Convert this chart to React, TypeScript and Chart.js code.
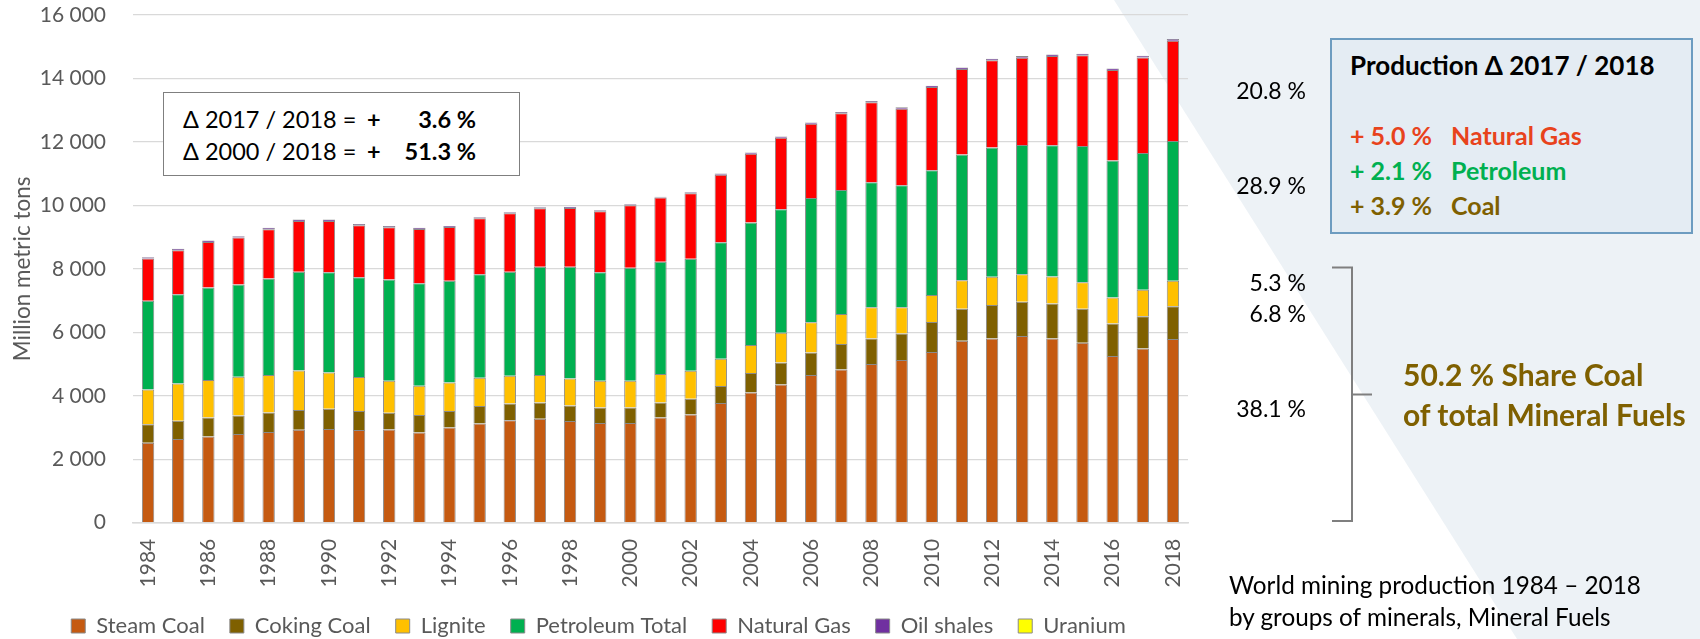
import React, { useEffect, useRef } from 'react';
import { Chart, registerables } from 'chart.js';

Chart.register(...registerables);

const years = ['1984','1985','1986','1987','1988','1989','1990','1991','1992','1993','1994','1995','1996','1997','1998','1999','2000','2001','2002','2003','2004','2005','2006','2007','2008','2009','2010','2011','2012','2013','2014','2015','2016','2017','2018'];

const steamCoal = [2520, 2636, 2720, 2793, 2856, 2930, 2950, 2919, 2940, 2846, 3004, 3130, 3225, 3276, 3203, 3140, 3140, 3318, 3413, 3770, 4106, 4359, 4652, 4830, 4998, 5124, 5376, 5732, 5807, 5880, 5807, 5669, 5250, 5493, 5790];
const cokingCoal = [579, 577, 598, 589, 620, 619, 641, 598, 525, 546, 513, 545, 534, 515, 493, 494, 494, 473, 493, 535, 608, 692, 714, 798, 809, 840, 950, 1014, 1050, 1081, 1103, 1073, 1030, 1017, 1030];
const lignite = [1102, 1177, 1176, 1217, 1176, 1250, 1145, 1072, 1008, 923, 904, 892, 871, 861, 851, 839, 839, 892, 882, 861, 883, 933, 954, 950, 982, 825, 846, 898, 891, 872, 850, 839, 819, 829, 802];
const petroleum = [2791, 2813, 2919, 2909, 3045, 3107, 3160, 3150, 3192, 3234, 3201, 3266, 3276, 3411, 3516, 3423, 3559, 3538, 3527, 3675, 3864, 3896, 3916, 3910, 3942, 3847, 3937, 3959, 4075, 4072, 4136, 4293, 4315, 4315, 4408];
const naturalGas = [1331, 1384, 1436, 1477, 1551, 1604, 1614, 1635, 1646, 1709, 1699, 1762, 1846, 1846, 1857, 1919, 1972, 2024, 2067, 2128, 2170, 2255, 2339, 2413, 2517, 2412, 2622, 2695, 2748, 2749, 2811, 2855, 2852, 3010, 3160];
const oilShales = [46, 47, 47, 46, 45, 44, 42, 39, 36, 34, 31, 30, 30, 31, 30, 29, 29, 30, 31, 32, 34, 36, 38, 39, 40, 41, 43, 46, 48, 50, 52, 51, 49, 52, 53];
const uranium = [0.05, 0.05, 0.05, 0.05, 0.05, 0.046, 0.038, 0.036, 0.034, 0.031, 0.03, 0.032, 0.035, 0.037, 0.035, 0.031, 0.035, 0.036, 0.036, 0.036, 0.04, 0.042, 0.04, 0.041, 0.044, 0.051, 0.054, 0.053, 0.058, 0.059, 0.056, 0.06, 0.062, 0.059, 0.054];

const seriesNames = ['Steam Coal', 'Coking Coal', 'Lignite', 'Petroleum Total', 'Natural Gas', 'Oil shales', 'Uranium'];
const seriesColors = ['#c55a11', '#7f6000', '#ffc000', '#00b050', '#ff0000', '#7030a0', '#ffff00'];
const seriesValues = [steamCoal, cokingCoal, lignite, petroleum, naturalGas, oilShales, uranium];

const yTickStep = 2000;
const yMax = 16000;
const yTitle = 'Million metric tons';

const deltaLabels = ['Δ 2017 / 2018 =', 'Δ 2000 / 2018 ='];
const deltaValues = ['3.6 %', '51.3 %'];

const shareLabels2018 = ['20.8 %', '28.9 %', '5.3 %', '6.8 %', '38.1 %'];
const productionTitle = 'Production Δ 2017 / 2018';
const productionChanges = ['+ 5.0 %', '+ 2.1 %', '+ 3.9 %'];
const productionGroups = ['Natural Gas', 'Petroleum', 'Coal'];
const productionColors = ['#e8431c', '#00b050', '#7f6000'];
const coalShare = ['50.2 % Share Coal', 'of total Mineral Fuels'];
const caption = ['World mining production 1984 – 2018', 'by groups of minerals, Mineral Fuels'];

const FONT = 'Lato';
const GREY_TEXT = '#595959';

function fmt(v: number) {
  return String(v).replace(/\B(?=(\d{3})+(?!\d))/g, ' ');
}

type TxtProps = { x: number; y: number; align?: 'left' | 'right'; size: number; weight?: number; color?: string; children: React.ReactNode };
function Txt({ x, y, align = 'left', size, weight = 400, color = '#000', children }: TxtProps) {
  const style: React.CSSProperties = {
    position: 'absolute', top: y, transform: 'translateY(-50%)', fontSize: size, fontWeight: weight,
    color, lineHeight: 1, whiteSpace: 'pre', fontFamily: FONT,
  };
  if (align === 'left') style.left = x; else style.right = 1700 - x;
  return <div style={style}>{children}</div>;
}

export default function App() {
  const ref = useRef<HTMLCanvasElement>(null);

  useEffect(() => {
    Chart.defaults.font.family = FONT;
    const chart = new Chart(ref.current!, {
      type: 'bar',
      data: {
        labels: years,
        datasets: seriesNames.map((name, i) => ({
          label: name,
          data: seriesValues[i],
          backgroundColor: seriesColors[i],
          borderColor: '#8a8a8a',
          borderWidth: 1,
          barPercentage: 0.41,
          categoryPercentage: 1,
        })),
      },
      options: {
        responsive: false,
        animation: false,
        layout: { padding: { left: 9, right: 512, top: 15, bottom: 0 } },
        plugins: {
          legend: {
            position: 'bottom',
            labels: {
              boxWidth: 14, boxHeight: 14, padding: 25, color: GREY_TEXT,
              font: { family: FONT, size: 22 },
            },
          },
          tooltip: { enabled: false },
        },
        scales: {
          x: {
            stacked: true,
            grid: { display: false, drawTicks: false },
            border: { display: true, color: '#d9d9d9', width: 1.5 },
            ticks: {
              autoSkip: false, minRotation: 90, maxRotation: 90, padding: 16, color: GREY_TEXT,
              font: { family: FONT, size: 21 },
              callback: (_v: any, i: number) => (i % 2 === 0 ? years[i] : ''),
            },
            afterFit: (s: any) => { s.height = 67.3; },
          },
          y: {
            stacked: true, min: 0, max: yMax,
            grid: { color: '#d9d9d9', lineWidth: 1.2, drawTicks: false },
            border: { display: false },
            ticks: {
              stepSize: yTickStep, padding: 27, color: GREY_TEXT,
              font: { family: FONT, size: 21 },
              callback: (v: any) => fmt(Number(v)),
            },
            title: {
              display: true, text: yTitle, color: GREY_TEXT,
              font: { family: FONT, size: 22.5, lineHeight: 1 },
              padding: { top: 2, bottom: 0 },
            },
            afterFit: (s: any) => { s.width = 124; s.paddingTop = 10; s.paddingBottom = 10; },
          },
        },
      },
    } as any);
    return () => chart.destroy();
  }, []);

  const line = (x1: number, y1: number, x2: number, y2: number) => (
    <line x1={x1} y1={y1} x2={x2} y2={y2} stroke="#7f7f7f" strokeWidth={2} />
  );

  return (
    <div style={{ position: 'fixed', left: 0, top: 0, width: 1700, height: 639, overflow: 'hidden', background: '#fff', fontFamily: FONT }}>
      <div style={{ position: 'absolute', left: 0, top: 0, width: 1700, height: 639, background: '#edf2f6', clipPath: 'polygon(1114px 0px, 1700px 0px, 1700px 639px, 1517px 639px)' }} />
      <canvas ref={ref} width={1700} height={647} style={{ position: 'absolute', left: 0, top: 0, width: 1700, height: 647 }} />

      {/* Delta box */}
      <div style={{ position: 'absolute', left: 163, top: 92, width: 357, height: 84, border: '1.5px solid #7f7f7f', background: '#fff', boxSizing: 'border-box' }} />
      {deltaLabels.map((t, i) => (
        <React.Fragment key={t}>
          <Txt x={183} y={120 + i * 32} size={23.5}>{t}</Txt>
          <Txt x={367} y={120 + i * 32} size={23.5} weight={700}>+</Txt>
          <Txt x={476} y={120 + i * 32} size={23.5} weight={700} align="right">{deltaValues[i]}</Txt>
        </React.Fragment>
      ))}

      {/* Share labels for 2018 */}
      {[90, 185, 282, 313, 408].map((y, i) => (
        <Txt key={i} x={1306} y={y} size={23} align="right">{shareLabels2018[i]}</Txt>
      ))}

      {/* Production box */}
      <div style={{ position: 'absolute', left: 1330, top: 38, width: 363, height: 196, border: '2px solid #6d9cc0', background: '#e4ecf3', boxSizing: 'border-box' }} />
      <Txt x={1350} y={65} size={26} weight={700}>{productionTitle}</Txt>
      {productionChanges.map((c, i) => (
        <React.Fragment key={c}>
          <Txt x={1350} y={135 + i * 35} size={25} weight={700} color={productionColors[i]}>{c}</Txt>
          <Txt x={1451} y={135 + i * 35} size={25} weight={700} color={productionColors[i]}>{productionGroups[i]}</Txt>
        </React.Fragment>
      ))}

      {/* Bracket */}
      <svg width={1700} height={639} style={{ position: 'absolute', left: 0, top: 0 }}>
        {line(1332, 267.5, 1353, 267.5)}
        {line(1352, 267.5, 1352, 521)}
        {line(1332, 521, 1353, 521)}
        {line(1352, 394.5, 1372, 394.5)}
      </svg>

      {coalShare.map((t, i) => (
        <Txt key={t} x={1403} y={374 + i * 40} size={30} weight={700} color="#7f6000">{t}</Txt>
      ))}

      {caption.map((t, i) => (
        <Txt key={t} x={1229} y={585 + i * 31.5} size={24.3}>{t}</Txt>
      ))}
    </div>
  );
}
